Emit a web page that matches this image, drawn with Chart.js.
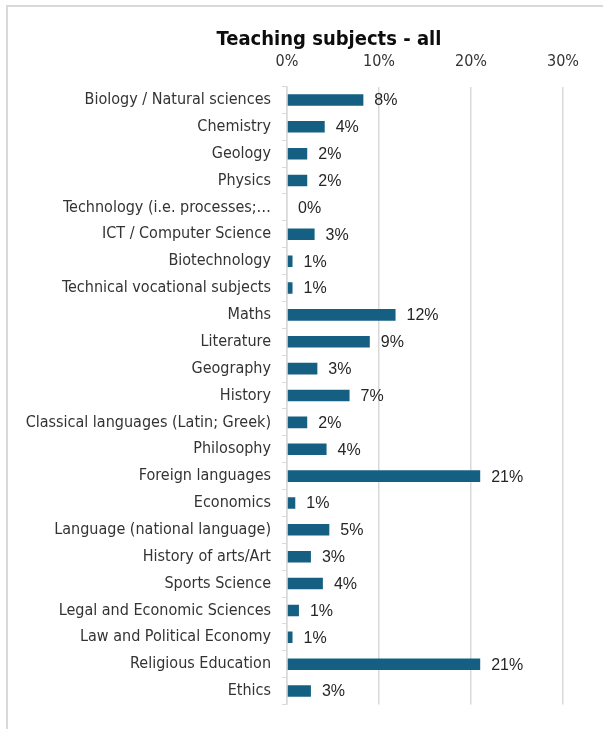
<!DOCTYPE html>
<html>
<head>
<meta charset="utf-8">
<script src="https://cdn.jsdelivr.net/npm/chart.js@4"></script>
<style>
  html, body { margin: 0; padding: 0; background: #fff; }
  #wrap { position: relative; width: 603px; height: 729px; }
  #frame { position: absolute; left: 6px; top: 5px; right: -10px; bottom: -10px;
           border-left: 2px solid #d9d9d9; border-top: 2px solid #d9d9d9; }
  canvas { position: absolute; left: 0; top: 0; }
</style>
</head>
<body>
<div id="wrap">
  <div id="frame"></div>
  <canvas id="chart" width="603" height="729"></canvas>
</div>
<script>
const chartTitle = "Teaching subjects - all";

const subjects = [
  "Biology / Natural sciences",
  "Chemistry",
  "Geology",
  "Physics",
  "Technology (i.e. processes;…",
  "ICT / Computer Science",
  "Biotechnology",
  "Technical vocational subjects",
  "Maths",
  "Literature",
  "Geography",
  "History",
  "Classical languages (Latin; Greek)",
  "Philosophy",
  "Foreign languages",
  "Economics",
  "Language (national language)",
  "History of arts/Art",
  "Sports Science",
  "Legal and Economic Sciences",
  "Law and Political Economy",
  "Religious Education",
  "Ethics"
];

// share of respondents, in percent
const shares = [
  8.3, 4.1, 2.2, 2.2, 0.0, 3.0, 0.6, 0.6,
  11.8, 9.0, 3.3, 6.8, 2.2, 4.3, 21.0, 0.9,
  4.6, 2.6, 3.9, 1.3, 0.6, 21.0, 2.6
];

const xTicks = [0, 10, 20, 30];

const BAR_COLOR = "#156082";
const TEXT_COLOR = "#333333";
const GRID_COLOR = "#d9d9d9";
const NARROW = "'Liberation Sans Narrow', 'DejaVu Sans Condensed', Arial, sans-serif";

// Title is drawn over the whole frame, not just the canvas centre.
const titlePlugin = {
  id: "frameTitle",
  afterDraw(chart) {
    const ctx = chart.ctx;
    ctx.save();
    ctx.font = "bold 20px " + NARROW;
    ctx.fillStyle = "#0d0d0d";
    ctx.textAlign = "center";
    ctx.textBaseline = "middle";
    ctx.fillText(chartTitle, 329, 40);
    ctx.restore();
  }
};

const valueLabels = {
  id: "valueLabels",
  afterDatasetsDraw(chart) {
    const ctx = chart.ctx;
    const meta = chart.getDatasetMeta(0);
    ctx.save();
    ctx.font = "16px 'Liberation Sans', Arial, sans-serif";
    ctx.fillStyle = "#262626";
    ctx.textAlign = "left";
    ctx.textBaseline = "middle";
    meta.data.forEach((bar, i) => {
      ctx.fillText(Math.round(shares[i]) + "%", bar.x + 11, bar.y + 1);
    });
    ctx.restore();
  }
};

new Chart(document.getElementById("chart"), {
  type: "bar",
  data: {
    labels: subjects,
    datasets: [{
      data: shares,
      backgroundColor: BAR_COLOR,
      borderWidth: 0,
      barPercentage: 0.43,
      categoryPercentage: 1
    }]
  },
  options: {
    indexAxis: "y",
    responsive: false,
    animation: false,
    layout: { padding: { left: 0, right: 40, top: 0, bottom: 24.5 } },
    plugins: {
      legend: { display: false },
      tooltip: { enabled: false },
      title: { display: false }
    },
    scales: {
      x: {
        position: "top",
        min: 0,
        max: 30,
        afterBuildTicks(scale) {
          scale.ticks = xTicks.map(v => ({ value: v }));
        },
        afterFit(scale) { scale.height = 86.5; },
        border: { display: false },
        grid: { color: GRID_COLOR, lineWidth: 1.5, drawTicks: false },
        ticks: {
          padding: 15,
          color: TEXT_COLOR,
          font: { family: NARROW, size: 16 },
          callback: v => v + "%"
        }
      },
      y: {
        afterFit(scale) { scale.width = 287; },
        border: { display: true, color: GRID_COLOR, width: 1.5 },
        grid: {
          offset: true,
          drawOnChartArea: false,
          drawTicks: true,
          tickLength: 5,
          color: GRID_COLOR
        },
        ticks: {
          padding: 11,
          color: TEXT_COLOR,
          autoSkip: false,
          font: { family: NARROW, size: 16 }
        }
      }
    }
  },
  plugins: [valueLabels, titlePlugin]
});
</script>
</body>
</html>
